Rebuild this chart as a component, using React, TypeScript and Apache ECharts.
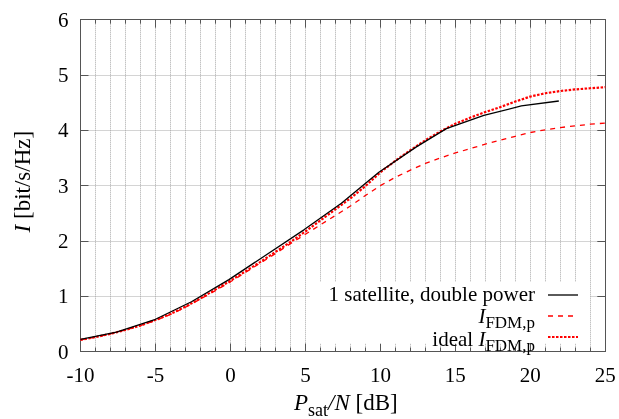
import { useEffect, useRef } from 'react';
import * as echarts from 'echarts';

const FONT = 'Liberation Serif';

// 1 satellite, double power
const xBlack = [-10, -7.6, -5.1, -2.6, -0.1, 2.4, 4.9, 7.4, 9.9, 12.4, 14.4, 16.9, 19.4, 21.9];
const yBlack = [0.22, 0.35, 0.57, 0.9, 1.3, 1.75, 2.2, 2.68, 3.24, 3.7, 4.03, 4.27, 4.44, 4.53];

// shared abscissa for the two red curves
const xRed = [-10, -9, -8, -7, -6, -5, -4, -3, -2, -1, 0, 1, 2, 3, 4, 5, 6, 7, 8, 9, 10, 11, 12, 13, 14, 15, 16, 17, 18, 19, 20, 21, 22, 23, 24, 25];
// I_FDM,p (dashed)
const yFdm = [0.21, 0.26, 0.32, 0.39, 0.47, 0.56, 0.67, 0.8, 0.95, 1.1, 1.26, 1.43, 1.6, 1.77, 1.95, 2.12, 2.29, 2.46, 2.63, 2.82, 3.0, 3.15, 3.28, 3.4, 3.5, 3.59, 3.67, 3.75, 3.82, 3.89, 3.96, 4.01, 4.05, 4.08, 4.11, 4.13];
// ideal I_FDM,p (dotted)
const yIdeal = [0.21, 0.26, 0.32, 0.39, 0.47, 0.57, 0.68, 0.81, 0.96, 1.12, 1.28, 1.45, 1.62, 1.8, 1.98, 2.17, 2.37, 2.57, 2.77, 2.99, 3.24, 3.45, 3.64, 3.82, 3.98, 4.12, 4.23, 4.33, 4.42, 4.52, 4.61, 4.67, 4.71, 4.74, 4.76, 4.78];

const legendLabels = ['{n|1 satellite, double power}', '{i|I}{s|FDM,p}', '{n|ideal }{i|I}{s|FDM,p}'];
const xTitle = '{i|P}{s|sat}{i|/N}{n| [dB]}';
const yTitle = '{i|I}{n| [bit/s/Hz]}';

const X_MIN = -10, X_MAX = 25, X_STEP = 5;
const Y_MIN = 0, Y_MAX = 6, Y_STEP = 1;

const zip = (xs: number[], ys: number[]) => xs.map((x, i) => [x, ys[i]]);

const rich = (size: number, sub: number, lh: number) => ({
  n: { fontFamily: FONT, fontSize: size, lineHeight: lh, color: '#000', verticalAlign: 'middle' as const },
  i: { fontFamily: FONT, fontSize: size, fontStyle: 'italic' as const, lineHeight: lh, color: '#000', verticalAlign: 'middle' as const },
  s: { fontFamily: FONT, fontSize: sub, color: '#000', verticalAlign: 'bottom' as const },
});

export default function App() {
  const ref = useRef<HTMLDivElement>(null);
  useEffect(() => {
    const chart = echarts.init(ref.current!, null, { renderer: 'svg' });
    const axisColor = '#555';
    const gridLine = { show: true, lineStyle: { type: 'dotted' as const, color: '#a8a8a8', width: 1 } };
    const legendX = 535;
    const legendY = [294, 316, 339];
    const sampleY = [295, 316, 337];
    const sampleStyles = [
      { stroke: '#000', lineWidth: 1.3 },
      { stroke: '#f00', lineWidth: 1.3, lineDash: [5, 5] },
      { stroke: '#f00', lineWidth: 2.2, lineDash: [2.5, 1.5] },
    ];
    chart.setOption({
      animation: false,
      grid: { left: 80.5, right: 13.7, top: 19.7, bottom: 67.5, containLabel: false, outerBoundsMode: 'none' },
      xAxis: [
        {
          type: 'value', min: X_MIN, max: X_MAX, interval: X_STEP,
          axisLine: { show: true, onZero: false, lineStyle: { color: axisColor, width: 1 } },
          axisTick: { show: true, inside: true, length: 8, lineStyle: { color: axisColor } },
          minorTick: { show: true, splitNumber: 5, length: 4, lineStyle: { color: axisColor } },
          splitLine: gridLine,
          minorSplitLine: gridLine,
          axisLabel: { fontFamily: FONT, fontSize: 21, color: '#000', margin: 13 },
          name: xTitle,
          nameLocation: 'middle', nameGap: 35,
          nameTextStyle: { fontFamily: FONT, fontSize: 23, color: '#000', padding: [0, 0, 0, 6], rich: rich(23, 18, 32) },
        },
        {
          type: 'value', position: 'top', min: X_MIN, max: X_MAX, interval: X_STEP,
          axisLine: { show: true, onZero: false, lineStyle: { color: axisColor, width: 1 } },
          axisTick: { show: true, inside: true, length: 8, lineStyle: { color: axisColor } },
          minorTick: { show: true, splitNumber: 5, length: 4, lineStyle: { color: axisColor } },
          splitLine: { show: false },
          axisLabel: { show: false },
        },
      ],
      yAxis: [
        {
          type: 'value', min: Y_MIN, max: Y_MAX, interval: Y_STEP,
          axisLine: { show: true, onZero: false, lineStyle: { color: axisColor, width: 1 } },
          axisTick: { show: true, inside: true, length: 8, lineStyle: { color: axisColor } },
          splitLine: gridLine,
          axisLabel: { fontFamily: FONT, fontSize: 21, color: '#000', margin: 12 },
          name: yTitle,
          nameLocation: 'middle', nameGap: 43,
          nameTextStyle: { fontFamily: FONT, fontSize: 23, color: '#000', padding: [0, 0, 0, 8], rich: rich(23, 18, 30) },
        },
        {
          type: 'value', position: 'right', min: Y_MIN, max: Y_MAX, interval: Y_STEP,
          axisLine: { show: true, onZero: false, lineStyle: { color: axisColor, width: 1 } },
          axisTick: { show: true, inside: true, length: 8, lineStyle: { color: axisColor } },
          splitLine: { show: false },
          axisLabel: { show: false },
        },
      ],
      series: [
        {
          name: 'ideal', type: 'line', data: zip(xRed, yIdeal), showSymbol: false, symbol: 'none',
          lineStyle: { color: '#f00', width: 2.2, type: [2.5, 1.5] }, z: 3,
        },
        {
          name: 'fdm', type: 'line', data: zip(xRed, yFdm), showSymbol: false, symbol: 'none',
          lineStyle: { color: '#f00', width: 1.3, type: [5, 5] }, z: 3,
        },
        {
          name: 'black', type: 'line', data: zip(xBlack, yBlack), showSymbol: false, symbol: 'none',
          lineStyle: { color: '#000', width: 1.3 }, z: 4,
        },
      ],
      graphic: [
        { type: 'rect', left: 310, top: 282, shape: { width: 280, height: 61.5 }, style: { fill: '#fff' }, z: 10 },
        ...legendLabels.map((t, k) => ({
          type: 'text', x: legendX, y: legendY[k], z: 11,
          style: {
            text: t, align: 'right', verticalAlign: 'middle',
            fontFamily: FONT, fontSize: 21, fill: '#000', rich: rich(21, 17, 29),
          },
        })),
        ...sampleStyles.map((s, k) => ({
          type: 'line', z: 11,
          shape: { x1: 548, y1: sampleY[k], x2: 578, y2: sampleY[k] },
          style: s,
        })),
      ],
    });
    return () => chart.dispose();
  }, []);
  return <div ref={ref} style={{ position: 'fixed', left: 0, top: 0, width: 619, height: 419 }} />;
}
